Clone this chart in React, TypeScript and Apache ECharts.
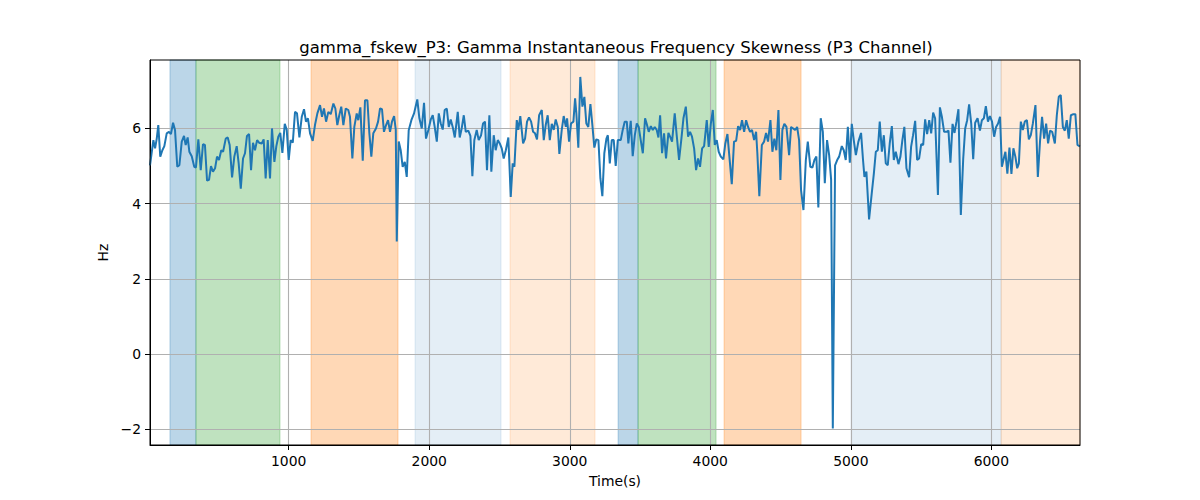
import { useEffect, useRef } from 'react';
import * as echarts from 'echarts';

const TITLE = 'gamma_fskew_P3: Gamma Instantaneous Frequency Skewness (P3 Channel)';

// time axis (s) and skewness values (Hz)
const timeSec = [
  13, 37, 49, 61, 72, 86, 101, 115, 132, 148, 162, 177, 191, 207, 222, 239, 255, 267, 281, 293,
  310, 328, 340, 357, 374, 390, 404, 419, 433, 447, 461, 476, 490, 504, 520, 533, 552, 566, 580, 597,
  613, 630, 644, 659, 675, 689, 703, 718, 732, 746, 760, 775, 789, 808, 822, 836, 851, 867, 881, 898,
  912, 926, 940, 955, 972, 986, 1000, 1014, 1029, 1045, 1059, 1076,
  1093, 1109, 1123, 1137, 1152, 1171, 1187, 1204, 1223, 1237, 1251, 1266, 1282, 1299, 1318, 1332, 1346, 1360, 1374, 1389,
  1406, 1424, 1436, 1453, 1467, 1484, 1495, 1510, 1527, 1543, 1560, 1574, 1588, 1602, 1621, 1636, 1650, 1664, 1678, 1693,
  1707, 1721, 1735, 1750, 1762, 1769, 1783, 1797, 1811, 1826, 1840, 1854, 1873, 1892, 1915, 1930, 1947, 1963, 1977, 1994,
  2011, 2025, 2039, 2054, 2068, 2082, 2096, 2110, 2125, 2139, 2153, 2167, 2182,
  2203, 2217, 2231, 2246, 2260, 2278, 2293, 2307, 2321, 2338, 2352, 2369, 2383, 2397, 2411, 2428, 2442, 2459, 2473, 2488,
  2502, 2516, 2530, 2545, 2563, 2580, 2594, 2606, 2623, 2634, 2648, 2668, 2682, 2696, 2710, 2725, 2739, 2753, 2767, 2782,
  2801, 2815, 2829, 2843, 2858, 2872, 2886, 2900, 2915, 2926, 2943, 2957, 2972, 2981, 2995, 3009, 3026, 3038, 3047, 3061,
  3075, 3090, 3104, 3118, 3132, 3147, 3161, 3175, 3189, 3204, 3218, 3232, 3246, 3261, 3271, 3285, 3299, 3313, 3327, 3342,
  3363, 3377, 3391, 3406, 3417, 3434, 3448, 3463, 3477, 3491, 3505, 3520, 3536, 3548, 3562, 3577, 3591, 3605, 3619, 3631,
  3643, 3657, 3671, 3685, 3702, 3714, 3728, 3747, 3762, 3778, 3794, 3809, 3826, 3842, 3856, 3870, 3885, 3899, 3913, 3927,
  3942, 3956, 3975, 3989, 4004, 4018, 4032, 4046, 4060, 4075, 4093, 4107, 4122, 4136, 4153, 4169, 4184, 4198, 4212, 4226,
  4241, 4255, 4269, 4283, 4297, 4312, 4326, 4335, 4349, 4367, 4383, 4397, 4411,
  4428, 4442, 4456, 4470, 4485, 4499, 4513, 4527, 4542, 4561, 4575, 4589, 4604, 4618, 4632, 4646, 4663, 4680, 4694, 4712,
  4727, 4741, 4755, 4769, 4786, 4801, 4815, 4831, 4846, 4860, 4872, 4888, 4903, 4917, 4936, 4950, 4964, 4979, 4993, 5007,
  5021, 5036, 5054, 5073, 5087, 5097, 5111, 5130, 5149, 5164, 5178, 5192, 5206, 5221, 5235, 5249, 5263, 5277, 5292, 5306,
  5320, 5339, 5353, 5367, 5381, 5396, 5415, 5429, 5443, 5458, 5472, 5486,
  5501, 5515, 5529, 5543, 5558, 5572, 5586, 5600, 5620, 5634, 5648, 5664, 5681, 5695, 5709, 5724, 5738, 5752, 5766, 5783,
  5800, 5814, 5828, 5842, 5857, 5871, 5885, 5902, 5919, 5933, 5947, 5961, 5976, 5990, 6005, 6020, 6034, 6048, 6062, 6075,
  6086, 6100, 6114, 6129, 6143, 6157, 6171, 6184, 6196, 6210, 6224, 6238, 6253, 6267, 6281, 6295, 6314, 6331, 6347, 6361,
  6376, 6390, 6404, 6418, 6433, 6452, 6466, 6480, 6494, 6509, 6523, 6537, 6551, 6566, 6584, 6598, 6613, 6630,
];

const skewHz = [
  5.02, 5.69, 5.47, 5.73, 6.09, 5.25, 5.42, 5.53, 5.87, 5.91, 5.85, 6.15, 5.96, 4.98, 5.02, 5.65, 5.80, 5.56, 5.76, 5.38,
  5.26, 4.98, 4.96, 5.71, 4.89, 5.58, 5.56, 4.61, 4.63, 5.0, 4.85, 4.94, 5.25, 5.16, 5.42, 5.38, 5.73, 5.76, 5.56, 4.70,
  5.25, 5.53, 5.07, 4.40, 5.20, 5.34, 5.80, 5.85, 4.89, 5.62, 5.42, 5.69, 5.62, 5.60, 5.71, 4.67, 5.69, 4.67, 6.0, 5.11,
  5.53, 5.78, 5.88, 5.35, 6.12, 5.96, 5.16, 5.69, 5.62, 6.44, 6.40, 5.76,
  6.31, 6.51, 6.18, 6.27, 5.87, 5.67, 6.09, 6.40, 6.62, 6.31, 6.53, 6.18, 6.44, 6.38, 6.66, 6.53, 6.09, 6.35, 6.58, 6.09,
  6.53, 6.49, 6.31, 5.20, 6.04, 6.40, 6.22, 6.56, 5.14, 6.75, 6.75, 5.87, 5.25, 5.87, 6.0, 6.18, 6.53, 6.51, 5.91, 6.09,
  6.22, 5.91, 6.18, 6.33, 5.96, 2.99, 5.65, 5.42, 4.98, 5.11, 4.71, 5.95, 6.22, 6.40, 6.77, 6.27, 6.0, 6.68, 5.73, 5.96,
  6.24, 6.35, 6.04, 5.65, 6.40, 6.13, 5.97, 6.49, 6.53, 6.04, 6.24, 6.04, 5.76,
  6.44, 5.76, 6.0, 6.35, 5.91, 5.94, 5.80, 4.73, 5.69, 5.96, 5.69, 5.82, 6.13, 6.18, 4.89, 6.35, 4.85, 5.82, 5.42, 5.69,
  5.60, 5.47, 5.20, 5.42, 5.76, 4.18, 5.07, 4.98, 6.22, 5.96, 6.33, 5.60, 5.73, 6.18, 6.29, 6.18, 5.91, 5.87, 5.71, 6.35,
  6.49, 5.69, 6.09, 6.35, 5.69, 6.12, 5.96, 6.24, 6.04, 5.32, 5.96, 6.33, 6.04, 6.27, 5.65, 6.13, 6.18, 6.80, 6.40, 5.49,
  7.37, 6.58, 6.84, 6.13, 6.04, 6.65, 6.09, 5.49, 5.71, 5.69, 4.67, 4.20, 5.34, 5.73, 5.82, 5.07, 5.69, 5.69, 5.0, 5.69,
  5.69, 5.96, 6.18, 6.18, 5.60, 6.20, 5.26, 5.82, 6.13, 6.04, 5.69, 5.34, 6.27, 6.12, 5.91, 6.06, 5.96, 6.04, 5.96, 5.76,
  6.35, 5.34, 5.87, 5.20, 5.88, 5.78, 5.65, 6.40, 5.78, 5.16, 5.71, 6.27, 6.58, 5.78, 5.91, 5.78, 5.47, 4.89, 5.20, 4.98,
  5.47, 5.53, 6.22, 5.51, 6.13, 6.49, 5.56, 5.69, 5.38, 5.25, 5.18, 5.60, 5.85, 5.25, 4.52, 5.65, 5.67, 6.06, 5.96, 6.22,
  5.91, 6.22, 6.04, 5.91, 5.96, 5.69, 5.91, 5.34, 4.20, 5.56, 5.65, 5.88, 5.65,
  6.22, 5.38, 5.73, 5.42, 6.49, 4.63, 5.96, 6.12, 6.04, 5.29, 6.04, 6.0, 5.96, 6.04, 5.69, 4.36, 3.83, 5.16, 5.65, 4.98,
  4.96, 5.16, 5.25, 3.90, 6.27, 5.91, 4.54, 5.69, 5.29, 4.63, -1.98, 5.02, 5.16, 5.25, 5.53, 5.42, 5.16, 6.04, 5.09, 6.12,
  5.69, 5.29, 5.65, 5.88, 5.16, 4.71, 4.85, 3.58, 4.27, 4.80, 5.38, 5.42, 6.18, 5.38, 5.82, 5.07, 5.02, 5.60, 6.06, 5.16,
  5.38, 5.05, 5.25, 5.69, 6.04, 4.94, 4.70, 5.51, 5.82, 6.20, 5.16, 5.20,
  5.58, 5.56, 6.24, 5.85, 6.22, 5.87, 6.42, 6.27, 4.23, 6.56, 6.31, 5.91, 5.91, 5.94, 5.09, 6.12, 5.88, 6.18, 6.51, 3.70,
  5.20, 6.0, 6.22, 6.64, 6.13, 5.18, 6.15, 6.27, 5.94, 6.22, 6.27, 6.59, 6.18, 6.33, 6.18, 5.78, 6.04, 6.13, 6.31, 4.98,
  5.16, 5.38, 4.80, 5.49, 4.79, 5.47, 5.25, 4.94, 5.07, 6.18, 5.96, 6.18, 6.22, 5.71, 5.82, 6.12, 6.62, 4.71, 5.69, 6.31,
  5.73, 6.13, 5.60, 5.94, 5.91, 5.60, 6.35, 6.84, 6.89, 6.04, 5.94, 6.22, 5.73, 6.35, 6.38, 6.38, 5.56, 5.52,
];

// shaded intervals
const spanStart = [155, 340, 1159, 1899, 2575, 3344, 3486, 4098, 5002, 6070];
const spanEnd = [340, 938, 1778, 2511, 3180, 3486, 4041, 4646, 6070, 6632];
const spanKind = ['blue', 'green', 'orange', 'paleBlue', 'paleOrange', 'blue', 'green', 'orange', 'paleBlue', 'paleOrange'];

const SPAN_COLORS: Record<string, string> = {
  blue: 'rgba(31,119,180,0.3)',
  green: 'rgba(44,160,44,0.3)',
  orange: 'rgba(255,127,14,0.3)',
  paleBlue: 'rgba(31,119,180,0.12)',
  paleOrange: 'rgba(255,127,14,0.16)',
};

// tick positions
const xTicks = [1000, 2000, 3000, 4000, 5000, 6000];
const yTicks = [-2, 0, 2, 4, 6];

const X_MIN = 13;
const X_MAX = 6631;
const Y_MIN = -2.42;
const Y_MAX = 7.82;

const GRID = { left: 150, right: 120, top: 60, bottom: 55 };
const FONT = 'DejaVu Sans';

export default function App() {
  const chartRef = useRef<HTMLDivElement>(null);

  useEffect(() => {
    if (!chartRef.current) return;
    const chart = echarts.init(chartRef.current, null, { renderer: 'svg' });

    const lineData = timeSec.map((t, i) => [t, skewHz[i]]);
    const areas = spanStart.map((s, i) => {
      const c = SPAN_COLORS[spanKind[i]];
      return [
        { xAxis: s, itemStyle: { color: c, borderColor: c, borderWidth: 1 } },
        { xAxis: spanEnd[i] },
      ];
    });

    const option: echarts.EChartsOption = {
      animation: false,
      backgroundColor: '#ffffff',
      textStyle: { fontFamily: FONT },
      title: {
        text: TITLE,
        left: 611,
        top: 34,
        textAlign: 'center',
        textStyle: { fontFamily: FONT, fontSize: 16.5, fontWeight: 'normal', color: '#000' },
      },
      grid: { ...GRID, outerBoundsMode: 'none' } as any,
      // axes frame (matplotlib spines)
      graphic: [
        {
          type: 'rect',
          z: 100,
          silent: true,
          shape: {
            x: GRID.left,
            y: GRID.top,
            width: 1200 - GRID.left - GRID.right,
            height: 500 - GRID.top - GRID.bottom,
          },
          style: { fill: 'none', stroke: '#000', lineWidth: 1 },
        },
      ],
      xAxis: {
        type: 'value',
        min: X_MIN,
        max: X_MAX,
        z: 2,
        name: 'Time(s)',
        nameLocation: 'middle',
        nameGap: 29,
        nameTextStyle: { fontFamily: FONT, fontSize: 13.9, color: '#000' },
        axisLine: { show: true, onZero: false, lineStyle: { color: '#000', width: 1 } },
        axisTick: { show: true, length: 5, customValues: xTicks, lineStyle: { color: '#000' } },
        axisLabel: {
          margin: 9,
          fontFamily: FONT,
          fontSize: 13.9,
          color: '#000',
          customValues: xTicks,
          formatter: (v: number) => String(v),
        },
        splitLine: { show: true, lineStyle: { color: '#b0b0b0', width: 1.1 } },
      } as any,
      yAxis: {
        type: 'value',
        min: Y_MIN,
        max: Y_MAX,
        z: 2,
        name: 'Hz',
        nameLocation: 'middle',
        nameGap: 36,
        nameRotate: 90,
        nameTextStyle: { fontFamily: FONT, fontSize: 13.9, color: '#000' },
        axisLine: { show: true, onZero: false, lineStyle: { color: '#000', width: 1 } },
        axisTick: { show: true, length: 5, customValues: yTicks, lineStyle: { color: '#000' } },
        axisLabel: {
          margin: 9,
          fontFamily: FONT,
          fontSize: 13.9,
          color: '#000',
          customValues: yTicks,
          formatter: (v: number) => (v < 0 ? '\u2212' + Math.abs(v) : String(v)),
        },
        splitLine: { show: true, lineStyle: { color: '#b0b0b0', width: 1.1 } },
      } as any,
      series: [
        {
          type: 'line',
          data: lineData,
          showSymbol: false,
          symbol: 'none',
          lineStyle: { color: '#1f77b4', width: 2 },
          itemStyle: { color: '#1f77b4' },
          z: 3,
          markArea: {
            silent: true,
            z: 1,
            data: areas as any,
          },
        },
      ],
    };

    chart.setOption(option);
    return () => chart.dispose();
  }, []);

  return (
    <div
      ref={chartRef}
      style={{ position: 'fixed', left: 0, top: 0, width: '1200px', height: '500px' }}
    />
  );
}
